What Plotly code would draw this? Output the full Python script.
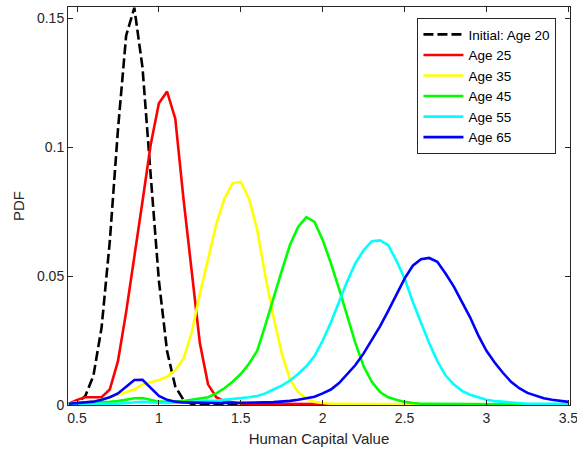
import plotly.graph_objects as go

# Human capital grid (shared by every age profile)
hc_value = [0.45, 0.50, 0.55, 0.60, 0.65, 0.70, 0.75, 0.80, 0.85, 0.90,
            0.95, 1.00, 1.05, 1.10, 1.15, 1.20, 1.25, 1.30, 1.35, 1.40,
            1.45, 1.50, 1.55, 1.60, 1.65, 1.70, 1.75, 1.80, 1.85, 1.90,
            1.95, 2.00, 2.05, 2.10, 2.15, 2.20, 2.25, 2.30, 2.35, 2.40,
            2.45, 2.50, 2.55, 2.60, 2.65, 2.70, 2.75, 2.80, 2.85, 2.90,
            2.95, 3.00, 3.05, 3.10, 3.15, 3.20, 3.25, 3.30, 3.35, 3.40,
            3.45, 3.50]

pdf_age20 = [0.0002, 0.0008, 0.0034, 0.0113, 0.0300, 0.0633, 0.1067, 0.1432, 0.1540, 0.1308,
             0.0890, 0.0482, 0.0208, 0.0072, 0.0020, 0.0004, 0.0001, 0, 0, 0,
             0, 0, 0, 0, 0, 0, 0, 0, 0, 0,
             0, 0, 0, 0, 0, 0, 0, 0, 0, 0,
             0, 0, 0, 0, 0, 0, 0, 0, 0, 0,
             0, 0, 0, 0, 0, 0, 0, 0, 0, 0,
             0, 0]

pdf_age25 = [0.0005, 0.0020, 0.0030, 0.0030, 0.0030, 0.0060, 0.0170, 0.0360, 0.0570, 0.0790,
             0.1010, 0.1170, 0.1215, 0.1110, 0.0800, 0.0520, 0.0240, 0.0080, 0.0030, 0.0015,
             0.0010, 0.0006, 0.0005, 0.0005, 0.0005, 0.0005, 0.0005, 0.0005, 0.0005, 0.0005,
             0.0005, 0.0004, 0.0002, 0.0001, 0, 0, 0, 0, 0, 0,
             0, 0, 0, 0, 0, 0, 0, 0, 0, 0,
             0, 0, 0, 0, 0, 0, 0, 0, 0, 0,
             0, 0]

pdf_age35 = [0.0005, 0.0010, 0.0010, 0.0015, 0.0020, 0.0030, 0.0040, 0.0050, 0.0060, 0.0080,
             0.0088, 0.0097, 0.0110, 0.0135, 0.0180, 0.0280, 0.0430, 0.0570, 0.0700, 0.0800,
             0.0860, 0.0865, 0.0800, 0.0680, 0.0500, 0.0340, 0.0200, 0.0100, 0.0050, 0.0025,
             0.0012, 0.0008, 0.0005, 0.0005, 0.0005, 0.0005, 0.0005, 0.0005, 0.0005, 0.0005,
             0.0005, 0.0004, 0.0003, 0.0003, 0.0003, 0.0002, 0.0002, 0.0002, 0.0001, 0.0001,
             0.0001, 0.0001, 0, 0, 0, 0, 0, 0, 0, 0,
             0, 0]

pdf_age45 = [0.0005, 0.0008, 0.0010, 0.0010, 0.0010, 0.0012, 0.0015, 0.0020, 0.0026, 0.0027,
             0.0020, 0.0013, 0.0012, 0.0013, 0.0015, 0.0020, 0.0024, 0.0030, 0.0045, 0.0065,
             0.0090, 0.0120, 0.0160, 0.0210, 0.0310, 0.0420, 0.0520, 0.0620, 0.0690, 0.0728,
             0.0710, 0.0640, 0.0550, 0.0450, 0.0340, 0.0240, 0.0150, 0.0090, 0.0050, 0.0030,
             0.0020, 0.0012, 0.0008, 0.0005, 0.0005, 0.0005, 0.0005, 0.0005, 0.0005, 0.0005,
             0.0005, 0.0005, 0.0004, 0.0003, 0.0003, 0.0002, 0.0002, 0.0002, 0.0001, 0.0001,
             0.0001, 0.0001]

pdf_age55 = [0.0003, 0.0005, 0.0005, 0.0005, 0.0005, 0.0005, 0.0005, 0.0008, 0.0011, 0.0012,
             0.0010, 0.0008, 0.0008, 0.0009, 0.0010, 0.0011, 0.0013, 0.0015, 0.0017, 0.0020,
             0.0022, 0.0025, 0.0030, 0.0035, 0.0045, 0.0060, 0.0075, 0.0095, 0.0120, 0.0150,
             0.0190, 0.0250, 0.0320, 0.0400, 0.0480, 0.0550, 0.0600, 0.0635, 0.0638, 0.0620,
             0.0560, 0.0490, 0.0400, 0.0320, 0.0240, 0.0170, 0.0115, 0.0080, 0.0055, 0.0040,
             0.0030, 0.0020, 0.0015, 0.0012, 0.0010, 0.0008, 0.0005, 0.0005, 0.0005, 0.0005,
             0.0005, 0.0005]

pdf_age65 = [0.0005, 0.0008, 0.0010, 0.0013, 0.0020, 0.0030, 0.0045, 0.0070, 0.0097, 0.0098,
             0.0065, 0.0035, 0.0020, 0.0013, 0.0010, 0.0009, 0.0008, 0.0008, 0.0008, 0.0008,
             0.0008, 0.0008, 0.0008, 0.0009, 0.0010, 0.0011, 0.0013, 0.0016, 0.0020, 0.0025,
             0.0032, 0.0045, 0.0060, 0.0085, 0.0120, 0.0155, 0.0200, 0.0250, 0.0305, 0.0365,
             0.0430, 0.0490, 0.0540, 0.0565, 0.0570, 0.0555, 0.0510, 0.0460, 0.0400, 0.0340,
             0.0270, 0.0210, 0.0165, 0.0125, 0.0090, 0.0065, 0.0047, 0.0035, 0.0026, 0.0020,
             0.0015, 0.0012]

series_names = ["Initial: Age 20", "Age 25", "Age 35", "Age 45", "Age 55", "Age 65"]
series_values = [pdf_age20, pdf_age25, pdf_age35, pdf_age45, pdf_age55, pdf_age65]
series_colors = ["#000000", "#FF0000", "#FFFF00", "#00FF00", "#00FFFF", "#0000FF"]

x_ticks = [0.5, 1, 1.5, 2, 2.5, 3, 3.5]
x_tick_labels = ["0.5", "1", "1.5", "2", "2.5", "3", "3.5"]
y_ticks = [0, 0.05, 0.1, 0.15]
y_tick_labels = ["0", "0.05", "0.1", "0.15"]

fig = go.Figure()
for name, vals, color in zip(series_names, series_values, series_colors):
    dash = "10px,4px" if name.startswith("Initial") else "solid"
    fig.add_trace(go.Scatter(
        x=hc_value, y=vals, mode="lines", name=name,
        line=dict(color=color, width=2.6, dash=dash),
    ))

axis_common = dict(
    showline=True, linecolor="#262626", linewidth=1, mirror="ticks",
    ticks="inside", ticklen=5, tickcolor="#262626", tickwidth=1,
    showgrid=False, zeroline=False, ticklabeloverflow="allow", automargin=False,
    tickfont=dict(family="Liberation Sans, Arial, sans-serif", size=14, color="#262626"),
)

fig.update_layout(
    width=577, height=455,
    margin=dict(l=68, r=7, t=7, b=50, autoexpand=False),
    paper_bgcolor="white", plot_bgcolor="white",
    font=dict(family="Liberation Sans, Arial, sans-serif", color="#262626"),
    xaxis=dict(range=[0.445, 3.51], tickvals=x_ticks, ticktext=x_tick_labels,
               title=dict(text="Human Capital Value", font=dict(size=15), standoff=8),
               **axis_common),
    yaxis=dict(range=[0, 0.1543], tickvals=y_ticks, ticktext=y_tick_labels,
               title=dict(text="PDF", font=dict(size=15), standoff=8),
               **axis_common),
    legend=dict(
        x=0.973, y=0.972, xanchor="right", yanchor="top",
        bgcolor="white", bordercolor="#262626", borderwidth=1,
        font=dict(size=13.5, color="#000000"), tracegroupgap=0,
        itemwidth=40,
    ),
    showlegend=True,
)

fig.write_html("out.html")
